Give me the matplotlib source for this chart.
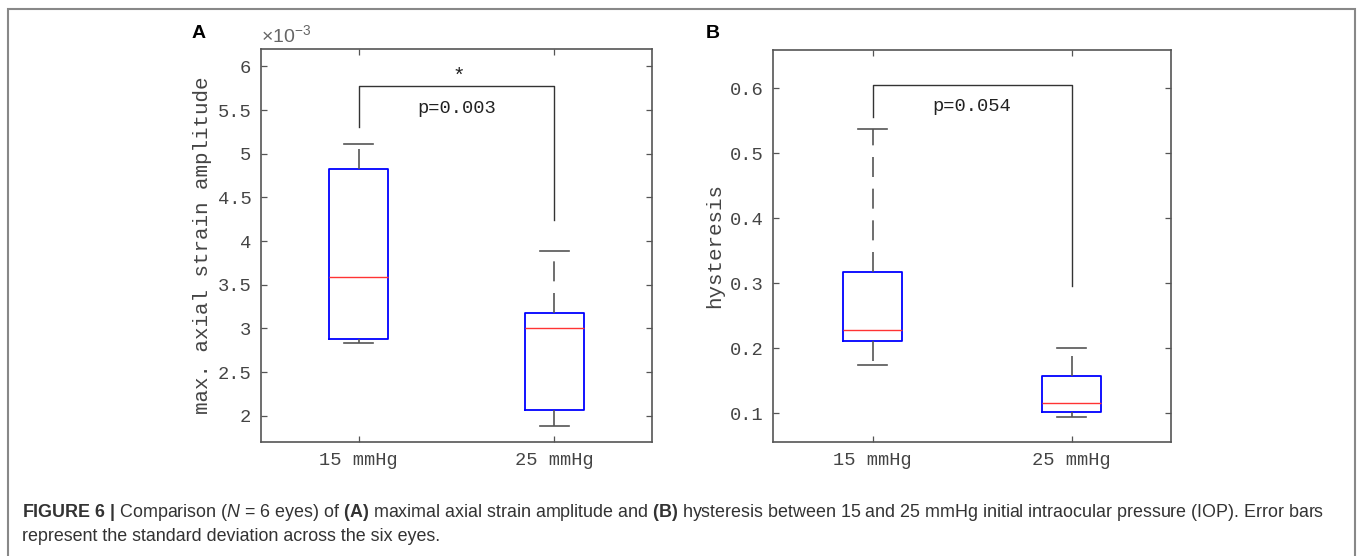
import matplotlib
matplotlib.use("Agg")
import matplotlib.pyplot as plt
from matplotlib.patches import Rectangle
from matplotlib.ticker import FuncFormatter
import numpy as np

plt.rcParams['mathtext.fontset'] = 'custom'
plt.rcParams['mathtext.rm'] = 'Liberation Sans'
plt.rcParams['mathtext.it'] = 'Liberation Sans:italic'
plt.rcParams['mathtext.bf'] = 'Liberation Sans:bold'

# groups (initial IOP)
groups = ["15 mmHg", "25 mmHg"]

# A: max. axial strain amplitude (box summary: whisker low, q1, median, q3, whisker high)
strain_lo = [2.83e-3, 1.88e-3]
strain_q1 = [2.88e-3, 2.07e-3]
strain_med = [3.59e-3, 3.00e-3]
strain_q3 = [4.83e-3, 3.18e-3]
strain_hi = [5.11e-3, 3.89e-3]
# significance bracket: top, left end, right end
strain_bracket = [5.78e-3, 5.31e-3, 4.24e-3]
strain_p = "p=0.003"

# B: hysteresis
hyst_lo = [0.175, 0.095]
hyst_q1 = [0.211, 0.1015]
hyst_med = [0.229, 0.116]
hyst_q3 = [0.318, 0.157]
hyst_hi = [0.537, 0.200]
hyst_bracket = [0.605, 0.556, 0.296]
hyst_p = "p=0.054"

caption1 = (r"$\bf{FIGURE\ 6\ |}$ Comparison ($\it{N}$ = 6 eyes) of $\bf{(A)}$ maximal axial strain amplitude "
            r"and $\bf{(B)}$ hysteresis between 15 and 25 mmHg initial intraocular pressure (IOP). Error bars")
caption2 = "represent the standard deviation across the six eyes."

mono = 'Liberation Mono'
txt_col = '#444444'
line_col = '#555555'


def box_stats(lo, q1, med, q3, hi):
    stats = []
    for i in range(len(lo)):
        stats.append(dict(whislo=lo[i], q1=q1[i], med=med[i], q3=q3[i], whishi=hi[i], fliers=[]))
    return stats


def draw_panel(ax, stats, bracket):
    ax.bxp(stats, positions=[1, 2], widths=0.3, capwidths=0.15, showfliers=False,
           boxprops=dict(color='#0000ff', linewidth=1.3),
           medianprops=dict(color='#ff3333', linewidth=1.0),
           whiskerprops=dict(color=line_col, linewidth=1.2, linestyle=(0, (12, 7))),
           capprops=dict(color=line_col, linewidth=1.2))
    top, left_end, right_end = bracket
    ax.plot([1, 1, 2, 2], [left_end, top, top, right_end], color='#333333', linewidth=1.0)
    ax.set_xlim(0.5, 2.5)
    ax.set_xticks([1, 2])
    ax.set_xticklabels(groups)
    ax.tick_params(direction='in', top=True, right=True, length=4, width=0.9,
                   colors=line_col, labelcolor=txt_col, labelsize=13.5, pad=7)
    for s in ax.spines.values():
        s.set_color(line_col)
        s.set_linewidth(1.2)


fig = plt.figure(figsize=(13.6, 5.56), dpi=100)

# panel A
axA = fig.add_axes([261 / 1360, 1 - 442 / 556, (652 - 261) / 1360, (442 - 49) / 556])
draw_panel(axA, box_stats(strain_lo, strain_q1, strain_med, strain_q3, strain_hi), strain_bracket)
axA.set_ylim(1.7e-3, 6.2e-3)
axA.set_yticks(np.arange(2, 6.01, 0.5) * 1e-3)
axA.yaxis.set_major_formatter(FuncFormatter(lambda v, p: f"{v * 1e3:g}"))
axA.text(1.5, 5.464e-3, strain_p, ha='center', va='baseline', family=mono, fontsize=13.5, color='#222222')
axA.text(1.51, 5.82e-3, "*", ha='center', va='baseline', family=mono, fontsize=15, color='#222222')
axA.text(0.0, 1.035, r"$\times10^{-3}$", transform=axA.transAxes, ha='left', va='center',
         fontsize=14, color='#666666')
axA.set_ylabel("max. axial strain amplitude", family=mono, fontsize=15, color=txt_col, labelpad=4)

# panel B
axB = fig.add_axes([773 / 1360, 1 - 442 / 556, (1171 - 773) / 1360, (442 - 50) / 556])
draw_panel(axB, box_stats(hyst_lo, hyst_q1, hyst_med, hyst_q3, hyst_hi), hyst_bracket)
axB.set_ylim(0.056, 0.659)
axB.set_yticks([0.1, 0.2, 0.3, 0.4, 0.5, 0.6])
axB.yaxis.set_major_formatter(FuncFormatter(lambda v, p: f"{v:.1f}"))
axB.text(1.5, 0.5655, hyst_p, ha='center', va='baseline', family=mono, fontsize=13.5, color='#222222')
axB.set_ylabel("hysteresis", family=mono, fontsize=15, color=txt_col, labelpad=4)

for ax in (axA, axB):
    for lab in ax.get_xticklabels() + ax.get_yticklabels():
        lab.set_family(mono)

# panel letters
fig.text(199 / 1360, 1 - 33 / 556, "A", ha='center', va='center', fontsize=14,
         fontweight='bold', family='Liberation Sans', color='black')
fig.text(713 / 1360, 1 - 33 / 556, "B", ha='center', va='center', fontsize=14,
         fontweight='bold', family='Liberation Sans', color='black')

# caption
fig.text(22 / 1360, 1 - 517 / 556, caption1, ha='left', va='baseline', fontsize=12.85,
         family='Liberation Sans', color='#333333')
fig.text(22 / 1360, 1 - 541 / 556, caption2, ha='left', va='baseline', fontsize=12.85,
         family='Liberation Sans', color='#333333')

# frame around the figure
fig.patches.append(Rectangle((8 / 1360, -0.05), (1355 - 8) / 1360, (556 - 9) / 556 + 0.05,
                             transform=fig.transFigure, fill=False, edgecolor='#888888', linewidth=1.5))

fig.savefig("out.png", dpi=100)
